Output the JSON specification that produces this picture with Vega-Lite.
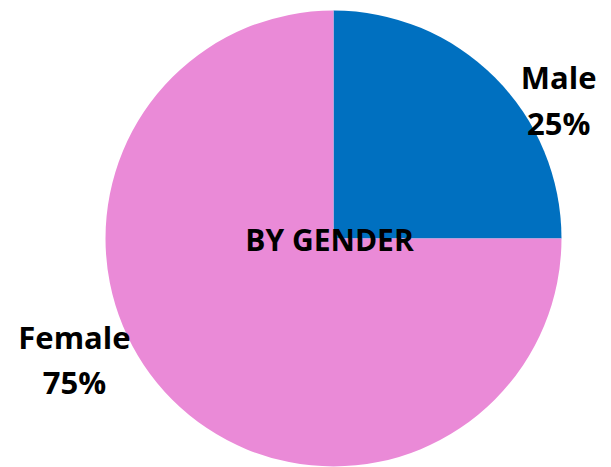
{
  "$schema": "https://vega.github.io/schema/vega-lite/v6.json",
  "autosize": {"type": "fit", "contains": "padding"},
  "width": 611,
  "height": 467,
  "padding": {"left": 46, "right": 0, "top": 10, "bottom": 0},
  "background": "white",
  "view": {"stroke": null},
  "data": {"values": [
    {"gender": "Male", "share": 0.25},
    {"gender": "Female", "share": 0.75}
  ]},
  "transform": [
    {"calculate": "datum.gender + '\\n' + format(datum.share, '.0%')", "as": "label"}
  ],
  "encoding": {
    "theta": {"field": "share", "type": "quantitative", "stack": true},
    "order": {"field": "gender", "sort": "descending"}
  },
  "layer": [
    {
      "mark": {"type": "arc", "outerRadius": 228, "stroke": null},
      "encoding": {
        "color": {
          "field": "gender", "type": "nominal",
          "scale": {"domain": ["Male", "Female"], "range": ["#0070C0", "#EA8AD7"]},
          "legend": null
        }
      }
    },
    {
      "mark": {"type": "text", "radius": 211, "dx": 76, "dy": 0, "align": "center", "baseline": "alphabetic",
        "lineBreak": "\n", "lineHeight": 46, "font": "Open Sans", "fontWeight": "bold", "fontSize": 31, "color": "#000000"},
      "encoding": {
        "text": {"condition": {"test": "datum.gender === 'Male'", "field": "label"}, "value": ""}
      }
    },
    {
      "mark": {"type": "text", "radius": 155.6, "dx": -149, "dy": 0, "align": "center", "baseline": "alphabetic",
        "lineBreak": "\n", "lineHeight": 45, "font": "Open Sans", "fontWeight": "bold", "fontSize": 31, "color": "#000000"},
      "encoding": {
        "text": {"condition": {"test": "datum.gender === 'Female'", "field": "label"}, "value": ""}
      }
    },
    {
      "data": {"values": [{"title": "BY GENDER"}]},
      "transform": [],
      "mark": {"type": "text", "radius": 0, "dx": -4, "dy": 12, "align": "center", "baseline": "alphabetic",
        "font": "Open Sans", "fontWeight": "bold", "fontSize": 30, "color": "#000000"},
      "encoding": {
        "theta": {"value": 0},
        "order": null,
        "text": {"field": "title", "type": "nominal"}
      }
    }
  ]
}
